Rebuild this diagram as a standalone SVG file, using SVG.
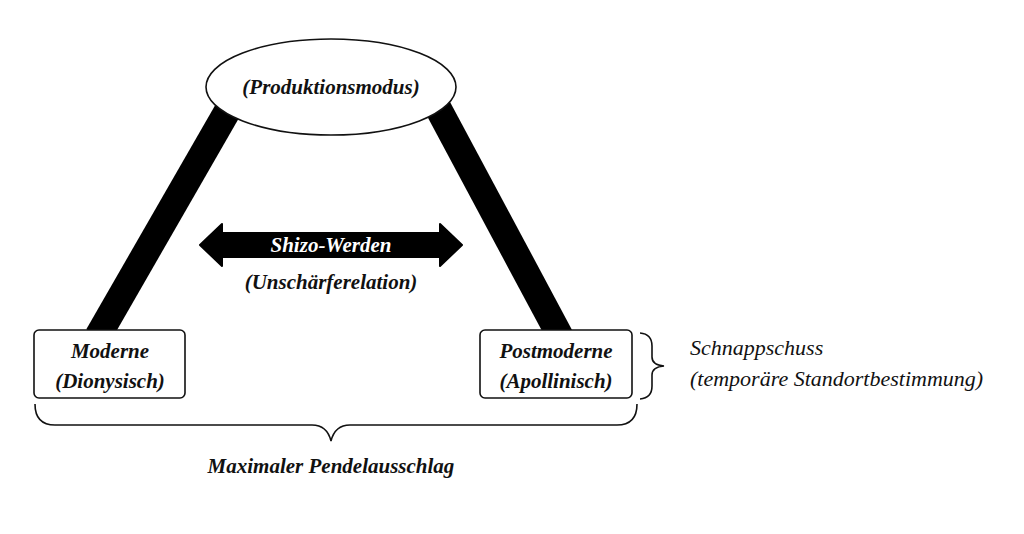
<svg xmlns="http://www.w3.org/2000/svg" width="1024" height="534" viewBox="0 0 1024 534">
<style>
text{font-family:"Liberation Serif","DejaVu Serif",serif;font-style:italic;font-size:21px;fill:#111;text-anchor:middle}
.b{font-weight:bold}
.l{text-anchor:start;font-size:22px}
.box{fill:#fff;stroke:#111;stroke-width:1.6}
.brace{fill:none;stroke:#111;stroke-width:1.6}
</style>
<rect width="1024" height="534" fill="#fff"/>
<g id="connectors">
<line x1="228" y1="110" x2="98" y2="336" stroke="#000" stroke-width="27"/>
<line x1="438" y1="108" x2="560" y2="336" stroke="#000" stroke-width="27"/>
<path id="double-arrow" d="M200,245 L222,224 L222,233 L440,233 L440,224 L462,245 L440,266 L440,257 L222,257 L222,266 Z" fill="#000" stroke="#000" stroke-linejoin="round" stroke-width="2"/>
</g>
<g id="produktionsmodus">
<ellipse cx="331" cy="87" rx="125" ry="48" class="box"/>
<text x="331" y="94" class="b">(Produktionsmodus)</text>
</g>
<g id="shizo-werden">
<text x="331" y="252" class="b" style="fill:#fff">Shizo-Werden</text>
<text x="331" y="289" class="b">(Unschärferelation)</text>
</g>
<g id="moderne">
<rect x="34" y="330" width="151" height="68" rx="5" class="box"/>
<text x="110" y="358" class="b">Moderne</text>
<text x="110" y="388" class="b">(Dionysisch)</text>
</g>
<g id="postmoderne">
<rect x="480" y="330" width="152" height="68" rx="5" class="box"/>
<text x="556" y="358" class="b">Postmoderne</text>
<text x="556" y="388" class="b">(Apollinisch)</text>
</g>
<g id="schnappschuss">
<path class="brace" d="M640,333 Q652,334 652,346 L652,357 Q652,365 664,366 Q652,367 652,375 L652,386 Q652,398 640,399"/>
<text x="690" y="355" class="l">Schnappschuss</text>
<text x="690" y="386" class="l">(temporäre Standortbestimmung)</text>
</g>
<g id="pendelausschlag">
<path class="brace" d="M35,404 Q35,425 55,425 L312,425 Q327,425 331,441 Q335,425 350,425 L617,425 Q637,425 637,404"/>
<text x="331" y="473" class="b">Maximaler Pendelausschlag</text>
</g>
</svg>
